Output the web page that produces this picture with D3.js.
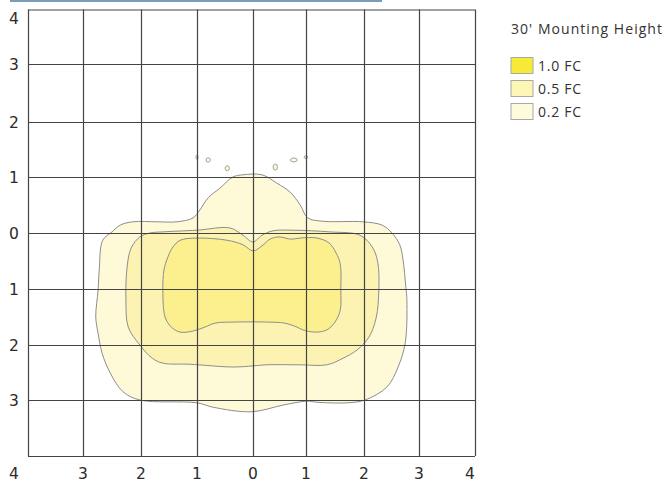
<!DOCTYPE html>
<html>
<head>
<meta charset="utf-8">
<script src="https://cdn.jsdelivr.net/npm/d3@7"></script>
<style>
  body { margin: 0; background: #fff; }
  svg { display: block; font-family: 'Open Sans', sans-serif; }
</style>
</head>
<body>
<svg width="666" height="483"></svg>
<script>
// grid ticks (feet x 10 from the fixture, both ways)
const ticks = [-4, -3, -2, -1, 0, 1, 2, 3, 4];

// isofootcandle contours, [x, y] in grid units
const contour02 = [
  [-0.18, 1.04], [0.17, 1.04], [0.45, 0.89], [0.70, 0.73], [0.89, 0.50], [1.03, 0.27],
  [1.29, 0.21], [1.98, 0.20], [2.33, 0.14], [2.51, 0.00], [2.65, -0.21], [2.71, -0.48],
  [2.76, -0.96], [2.78, -1.20], [2.75, -1.96], [2.62, -2.40], [2.42, -2.76], [2.02, -3.00],
  [1.71, -3.05], [1.19, -3.04], [1.02, -3.02], [0.57, -3.09], [-0.02, -3.21], [-0.71, -3.13],
  [-1.00, -3.05], [-2.02, -3.00], [-2.31, -2.85], [-2.53, -2.51], [-2.67, -2.15], [-2.74, -1.79],
  [-2.78, -1.50], [-2.74, -1.02], [-2.72, -0.66], [-2.66, -0.13], [-2.50, 0.02], [-2.36, 0.14],
  [-2.14, 0.20], [-1.71, 0.20], [-1.36, 0.20], [-1.07, 0.27], [-0.95, 0.41], [-0.80, 0.63],
  [-0.59, 0.80], [-0.36, 1.00]
];
const contour05 = [
  [-2.02, -0.07], [-1.84, 0.00], [-1.61, 0.02], [-1.00, 0.05], [-0.41, 0.09], [-0.18, -0.04],
  [0.00, -0.16], [0.17, -0.04], [0.38, 0.04], [0.75, 0.05], [1.41, 0.02], [1.93, -0.04],
  [2.15, -0.25], [2.25, -0.52], [2.27, -1.02], [2.22, -1.52], [2.09, -1.86], [1.88, -2.09],
  [1.64, -2.24], [1.36, -2.36], [0.89, -2.36], [0.26, -2.36], [0.00, -2.38], [-0.36, -2.40],
  [-1.13, -2.35], [-1.61, -2.33], [-1.80, -2.24], [-2.02, -2.00], [-2.22, -1.68], [-2.26, -1.20],
  [-2.24, -0.61], [-2.17, -0.27]
];
const contour10 = [
  [-1.52, -0.43], [-1.43, -0.25], [-1.30, -0.13], [-1.00, -0.09], [-0.46, -0.13], [-0.18, -0.21],
  [0.00, -0.32], [0.17, -0.23], [0.32, -0.11], [0.49, -0.07], [0.72, -0.11], [0.89, -0.09],
  [1.19, -0.09], [1.40, -0.18], [1.52, -0.36], [1.59, -0.55], [1.60, -1.02], [1.59, -1.38],
  [1.50, -1.59], [1.36, -1.73], [1.16, -1.77], [0.94, -1.73], [0.83, -1.68], [0.60, -1.61],
  [0.26, -1.59], [-0.32, -1.59], [-0.68, -1.61], [-0.86, -1.68], [-1.07, -1.75], [-1.30, -1.77],
  [-1.46, -1.68], [-1.57, -1.50], [-1.61, -1.02], [-1.59, -0.66]
];
// small 0.2 FC islands: [x, y, rx, ry]
const islands = [
  [-1.00, 1.36, 0.02, 0.04], [-0.80, 1.31, 0.04, 0.04], [-0.46, 1.16, 0.04, 0.045],
  [0.42, 1.18, 0.04, 0.055], [0.77, 1.31, 0.065, 0.035], [1.00, 1.36, 0.035, 0.025]
];

const levels = ["1.0 FC", "0.5 FC", "0.2 FC"];
const legendTitle = "30' Mounting Height";

const svg = d3.select('svg');
const c02 = "#fef9d7", c05 = "#fcf3b2", c10 = "#fcef8d";
const lineColor = "#8d8d8d";
const gridColor = "#444";

// grid is not perfectly even in the source drawing
const xScale = d3.scaleLinear()
  .domain(ticks)
  .range([28, 83, 141, 197, 253, 306, 364, 419, 475]);
const yScale = d3.scaleLinear()
  .domain(ticks.slice().reverse())
  .range([9.5, 64, 122, 177, 233, 289, 345, 400, 456]);

// header rule
svg.append('rect')
  .attr('x', 10).attr('y', 0)
  .attr('width', 372).attr('height', 2)
  .attr('fill', '#7a9cb4');

const line = d3.line()
  .x(d => xScale(d[0]))
  .y(d => yScale(d[1]))
  .curve(d3.curveCatmullRomClosed.alpha(0.5));

const plot = svg.append('g').attr('id', 'contours');
[[contour02, c02], [contour05, c05], [contour10, c10]].forEach(([pts, fill]) => {
  plot.append('path')
    .attr('d', line(pts))
    .attr('fill', fill)
    .attr('stroke', lineColor)
    .attr('stroke-width', 1);
});

plot.selectAll('ellipse')
  .data(islands)
  .enter()
  .append('ellipse')
  .attr('cx', d => xScale(d[0]))
  .attr('cy', d => yScale(d[1]))
  .attr('rx', d => Math.abs(xScale(d[2]) - xScale(0)))
  .attr('ry', d => Math.abs(yScale(d[3]) - yScale(0)))
  .attr('fill', c02)
  .attr('stroke', lineColor)
  .attr('stroke-width', 0.8);

// grid via axes
const w = 475 - 28, h = 456 - 9.5;
svg.append('g')
  .attr('transform', 'translate(0,9.5)')
  .call(d3.axisBottom(xScale).tickValues(ticks).tickSize(h).tickFormat(''))
  .call(g => g.select('.domain').remove())
  .call(g => g.selectAll('line').attr('stroke', gridColor).attr('stroke-width', 1.2));
svg.append('g')
  .attr('transform', 'translate(28,0)')
  .call(d3.axisRight(yScale).tickValues(ticks).tickSize(w).tickFormat(''))
  .call(g => g.select('.domain').remove())
  .call(g => g.selectAll('line').attr('stroke', gridColor).attr('stroke-width', 1.2));

// tick labels
const tickFont = "'DejaVu Sans', sans-serif";
svg.append('g')
  .selectAll('text')
  .data(ticks.filter(d => d > -4))
  .enter()
  .append('text')
  .attr('x', 14)
  .attr('y', d => d === 4 ? 18 : yScale(d))
  .attr('dy', '0.36em')
  .attr('text-anchor', 'middle')
  .style('font-family', tickFont)
  .style('font-size', '15.5px')
  .attr('fill', '#2b2b2b')
  .text(d => Math.abs(d));

svg.append('g')
  .selectAll('text')
  .data(ticks)
  .enter()
  .append('text')
  .attr('x', d => d === -4 ? 14 : d === 4 ? 470 : xScale(d))
  .attr('y', 473.5)
  .attr('dy', '0.36em')
  .attr('text-anchor', 'middle')
  .style('font-family', tickFont)
  .style('font-size', '15.5px')
  .attr('fill', '#2b2b2b')
  .text(d => Math.abs(d));

// legend
const legend = svg.append('g').attr('id', 'legend');
legend.append('text')
  .attr('x', 511).attr('y', 34)
  .style('font-size', '14px')
  .attr('textLength', 151)
  .attr('lengthAdjust', 'spacing')
  .attr('fill', '#333')
  .text(legendTitle);

const legendFill = ["#f8e936", "#fbf5b6", "#fefbdc"];
levels.forEach((lab, i) => {
  legend.append('rect')
    .attr('x', 511).attr('y', 57.5 + i * 23)
    .attr('width', 22).attr('height', 16)
    .attr('fill', legendFill[i])
    .attr('stroke', '#a8a8a8')
    .attr('stroke-width', 1);
  legend.append('text')
    .attr('x', 538).attr('y', 70.5 + i * 23)
    .style('font-size', '14px')
    .attr('textLength', 43)
    .attr('lengthAdjust', 'spacing')
    .attr('fill', '#333')
    .text(lab);
});
</script>
</body>
</html>
